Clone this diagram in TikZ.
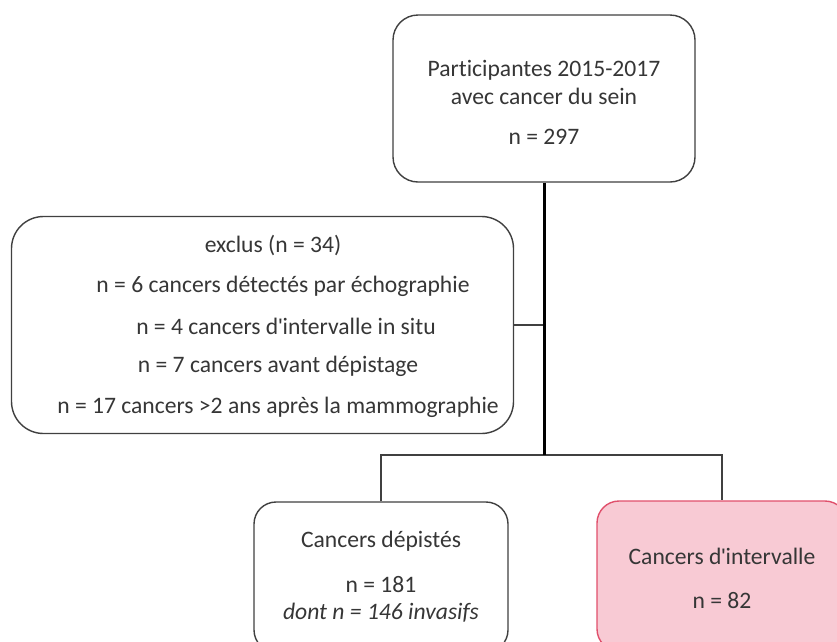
\documentclass[tikz,border=0pt]{standalone}
\usepackage{fontspec}
\setmainfont{Carlito}[RawFeature={-liga}]
\newfontfamily\aposfont{Liberation Sans}[Scale=0.95]
\definecolor{txt}{HTML}{363636}
\definecolor{edge}{HTML}{404040}
\definecolor{pinkfill}{HTML}{F8CAD4}
\definecolor{pinkedge}{HTML}{E0506C}
\newcommand{\apos}{{\aposfont\symbol{39}}}
\tikzset{
  box/.style={draw=edge, line width=1.4pt, fill=white, inner sep=0pt},
  pinkbox/.style={draw=pinkedge, line width=1.4pt, fill=pinkfill, inner sep=0pt},
  lbl/.style={text=txt, inner sep=0pt, font=\fontsize{23.6}{27}\selectfont},
  thinline/.style={draw=edge, line width=1.5pt},
  thickline/.style={draw=black, line width=3pt}
}
\begin{document}
\begin{tikzpicture}[x=1pt,y=-1pt]
\useasboundingbox (0,0) rectangle (837,641);
% boxes
\node[box, rounded corners=25pt, minimum width=302pt, minimum height=167pt] (top) at (544,98.5) {};
\node[box, rounded corners=32pt, minimum width=502pt, minimum height=217pt] (excl) at (262.5,325) {};
\node[box, rounded corners=22pt, minimum width=254pt, minimum height=150pt] (dep) at (381,577) {};
\node[pinkbox, rounded corners=22pt, minimum width=250pt, minimum height=150pt] (intv) at (722,576) {};
% texts
\node[lbl] (t1) at (544,70) {Part\kern0pt icipantes 2015-2017};
\node[lbl] (t2) at (544,96) {avec cancer du sein};
\node[lbl] (t3) at (544,137) {n = 297};
\node[lbl] (e1) at (273,245) {exclus (n = 34)};
\node[lbl] (e2) at (283,286) {n = 6 cancers détectés par échographie};
\node[lbl] (e3) at (286,326) {n = 4 cancers d\apos intervalle in situ};
\node[lbl] (e4) at (278,366) {n = 7 cancers avant dépistage};
\node[lbl] (e5) at (278,407) {n = 17 cancers >2 ans après la mammographie};
\node[lbl] (d1) at (381,541) {Cancers dépistés};
\node[lbl] (d2) at (381,585) {n = 181};
\node[lbl] (d3) at (381,613) {\itshape dont n = 146 invasifs};
\node[lbl] (i1) at (722,556) {Cancers d\apos intervalle};
\node[lbl] (i2) at (722,601) {n = 82};
% connectors
\coordinate (j) at (544,455);
\draw[thinline] (excl.east) -- (excl.east -| j);
\draw[thinline] (dep.north) |- (j) -| (intv.north);
\draw[thickline] (top.south) -- (j);
\end{tikzpicture}
\end{document}
